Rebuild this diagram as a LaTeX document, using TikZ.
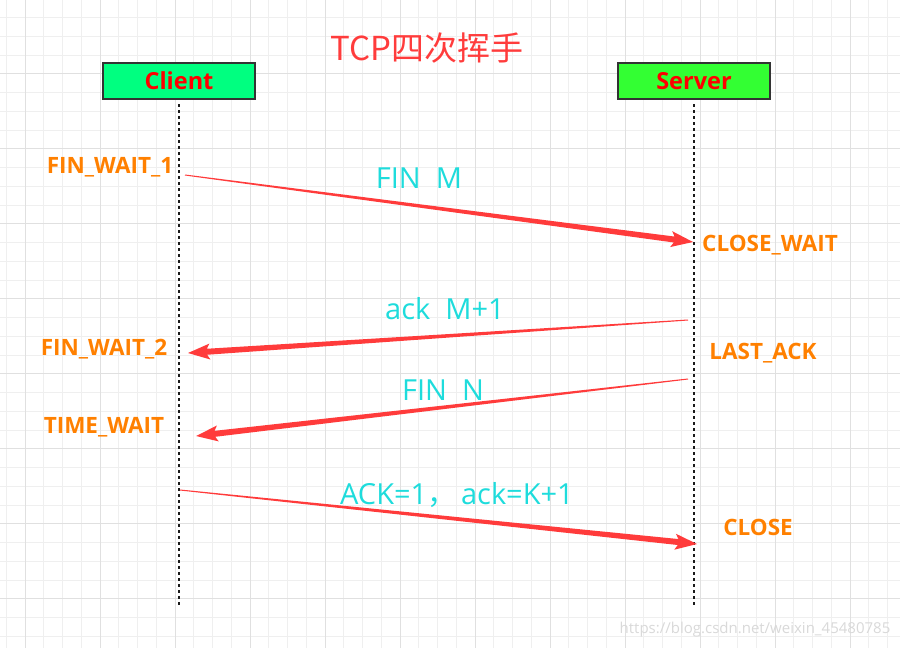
\documentclass[tikz,border=0pt]{standalone}
\usepackage{fontspec}
\setmainfont{Open Sans}
\newfontfamily\cjk{Noto Sans CJK SC}
\usetikzlibrary{calc}

\definecolor{gridminor}{HTML}{EFEFEF}
\definecolor{gridmajor}{HTML}{E0E0E0}
\definecolor{clientgreen}{HTML}{00FF80}
\definecolor{servergreen}{HTML}{33FF33}
\definecolor{boxedge}{HTML}{333333}
\definecolor{titlered}{HTML}{FF3C3C}
\definecolor{statecol}{HTML}{FF8000}
\definecolor{msgcol}{HTML}{1EDCDC}
\definecolor{arrowred}{HTML}{FF3B3B}
\definecolor{lifecol}{HTML}{1A1A1A}

\tikzset{
  party/.style={draw=boxedge, line width=2.6pt, minimum width=152pt, minimum height=36pt,
    inner sep=0pt, text=red, font=\fontsize{23.5}{28}\selectfont\bfseries},
  lifeline/.style={draw=lifecol, line width=2.5pt, dash pattern=on 2.5pt off 3.5pt},
  state/.style={text=statecol, font=\fontsize{22.5}{27}\selectfont\bfseries, inner sep=0pt},
  msg/.style={text=msgcol, font=\fontsize{29}{34}\selectfont, inner sep=0pt},
}

% tapered message arrow from #1 to #2 (thin tail, wide shaft end, filled head)
\newcommand\msgarrow[2]{%
  \coordinate (hb) at ($(#2)!22pt!(#1)$);
  \coordinate (sb) at ($(#2)!19pt!(#1)$);
  \fill[arrowred]
    ($(#1)!0.5pt!90:(#2)$) -- ($(sb)!3pt!-90:(#1)$) -- ($(hb)!8pt!-90:(#1)$)
    -- (#2) -- ($(hb)!8pt!90:(#1)$) -- ($(sb)!3pt!90:(#1)$)
    -- ($(#1)!0.5pt!-90:(#2)$) -- cycle;
}

\begin{document}
\begin{tikzpicture}[x=1pt, y=-1pt]
\useasboundingbox (0,0) rectangle (900,648);
\fill[white] (0,0) rectangle (900,648);

% background grid
\foreach \i in {0,...,48} {
  \draw[gridminor, line width=0.9pt] (6.25+\i*18.75,0) -- (6.25+\i*18.75,648);
}
\foreach \i in {0,...,35} {
  \draw[gridminor, line width=0.9pt] (0,-1.25+\i*18.75) -- (900,-1.25+\i*18.75);
}
\foreach \i in {0,...,11} {
  \draw[gridmajor, line width=1pt] (25+\i*75,0) -- (25+\i*75,648);
}
\foreach \i in {0,...,8} {
  \draw[gridmajor, line width=1pt] (0,-2+\i*75) -- (900,-2+\i*75);
}

% title
\node[text=titlered, font=\cjk\fontsize{33}{38}\selectfont, inner sep=0pt] (title) at (427,48) {TCP四次挥手};

% participants
\node[party, fill=clientgreen] (client) at (179,81) {Client};
\node[party, fill=servergreen] (server) at (694,81) {Server};

% lifelines
\coordinate (cend) at (179,608);
\coordinate (send) at (694,608);
\draw[lifeline] (client.south) ++(0,4) -- (cend);
\draw[lifeline] (server.south) ++(0,4) -- (send);

% message end points
\coordinate (m1a) at (185,175);  \coordinate (m1b) at (693,242);
\coordinate (m2a) at (688,320);  \coordinate (m2b) at (188,353);
\coordinate (m3a) at (688,379);  \coordinate (m3b) at (196,436);
\coordinate (m4a) at (180,490);  \coordinate (m4b) at (697,544);

\msgarrow{m1a}{m1b}
\msgarrow{m2a}{m2b}
\msgarrow{m3a}{m3b}
\msgarrow{m4a}{m4b}

% message labels
\node[msg] (l1) at (419,178) {FIN\ \ M};
\node[msg] (l2) at (445,309) {ack\ \ M+1};
\node[msg] (l3) at (443,390) {FIN\ \ N};
\node[msg] (l4) at (457,495) {ACK=1{\cjk ，}\,ack=K+1};

% connection states
\node[state] (s1) at (110,167) {FIN\_WAIT\_1};
\node[state] (s2) at (770,245) {CLOSE\_WAIT};
\node[state] (s3) at (104,349) {FIN\_WAIT\_2};
\node[state] (s4) at (763,353) {LAST\_ACK};
\node[state] (s5) at (104,427) {TIME\_WAIT};
\node[state] (s6) at (758,527) {CLOSE};

% watermark
\node[text=gray!30, font=\fontsize{15}{18}\selectfont, inner sep=0pt] (wm) at (755,630) {https://blog.csdn.net/weixin\_45480785};
\end{tikzpicture}
\end{document}
